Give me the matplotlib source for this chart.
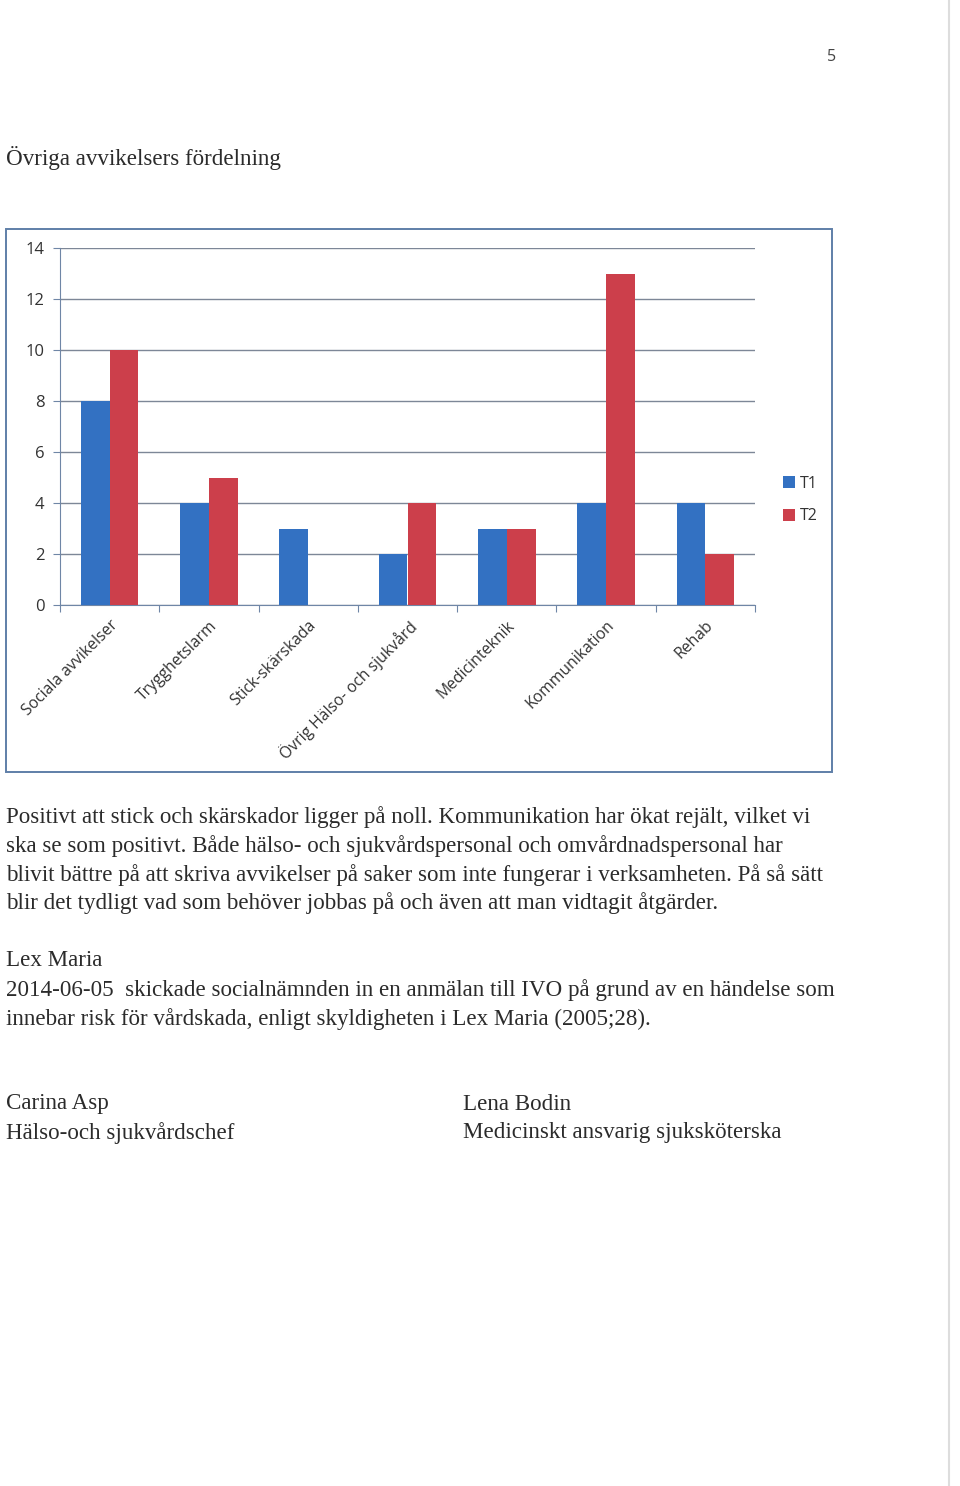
import matplotlib
matplotlib.use('Agg')
import matplotlib.pyplot as plt
import numpy as np

# chart data
categories = ['Sociala avvikelser', 'Trygghetslarm', 'Stick-skärskada',
              'Övrig Hälso- och sjukvård', 'Medicinteknik', 'Kommunikation', 'Rehab']
t1 = [8, 4, 3, 2, 3, 4, 4]
t2 = [10, 5, 0, 4, 3, 13, 2]
yticks = [0, 2, 4, 6, 8, 10, 12, 14]

# page text
title = 'Övriga avvikelsers fördelning'
para1 = ['Positivt att stick och skärskador ligger på noll. Kommunikation har ökat rejält, vilket vi',
         'ska se som positivt. Både hälso- och sjukvårdspersonal och omvårdnadspersonal har',
         'blivit bättre på att skriva avvikelser på saker som inte fungerar i verksamheten. På så sätt',
         'blir det tydligt vad som behöver jobbas på och även att man vidtagit åtgärder.']
para2 = ['Lex Maria',
         '2014-06-05  skickade socialnämnden in en anmälan till IVO på grund av en händelse som',
         'innebar risk för vårdskada, enligt skyldigheten i Lex Maria (2005;28).']
sign_left = ['Carina Asp', 'Hälso-och sjukvårdschef']
sign_right = ['Lena Bodin', 'Medicinskt ansvarig sjuksköterska']

W, H = 960, 1486
fig = plt.figure(figsize=(W / 100, H / 100), dpi=100)
fig.patch.set_facecolor('white')

def fx(px):
    return px / W

def fy(py):
    return 1 - py / H

serif = 'Liberation Serif'
sans = 'Open Sans'
txt_col = '#2b2b2b'
fs = 16.6

fig.text(fx(832), fy(57), '5', fontsize=11.5, family=sans, color='#444444', ha='center', va='center')
fig.text(fx(6), fy(158), title, fontsize=fs, family=serif, color=txt_col, va='center')

# chart frame
frame = plt.Rectangle((fx(6), fy(772)), fx(832) - fx(6), fy(229) - fy(772),
                      transform=fig.transFigure, fill=False, edgecolor='#5f7fa8', linewidth=1.4)
fig.patches.append(frame)

ax = fig.add_axes([fx(60), fy(605), fx(755) - fx(60), fy(248) - fy(605)])
x = np.arange(len(categories))
w = 0.29
ax.bar(x - w / 2, t1, w, color='#3371c2', label='T1', zorder=3)
ax.bar(x + w / 2, t2, w, color='#cc3f4b', label='T2', zorder=3)
ax.set_xlim(-0.5, len(categories) - 0.5)
ax.set_ylim(0, 14)
ax.set_yticks(yticks)
ax.yaxis.grid(True, color='#7d8797', linewidth=1.0, zorder=0)
for s in ['top', 'right']:
    ax.spines[s].set_visible(False)
ax.spines['left'].set_color('#6f86a6')
ax.spines['bottom'].set_color('#6f86a6')
ax.tick_params(axis='y', length=5, color='#6f86a6', labelsize=12, labelcolor='#333333', pad=6)
ax.set_xticks(np.arange(len(categories) + 1) - 0.5)
ax.set_xticklabels([])
ax.tick_params(axis='x', length=5, color='#6f86a6')
ax.set_xticks(x, minor=True)
ax.set_xticklabels(categories, minor=True, rotation=45, ha='right', rotation_mode='anchor',
                   fontsize=11.3, color='#333333', family=sans)
ax.tick_params(axis='x', which='minor', length=0, pad=9)
for lab in ax.get_yticklabels():
    lab.set_family(sans)

leg = fig.legend(handles=ax.get_legend_handles_labels()[0], labels=['T1', 'T2'],
                 loc='center left', bbox_to_anchor=(fx(769), fy(500)), frameon=False,
                 fontsize=11.5, handlelength=0.75, handleheight=0.75, handletextpad=0.3,
                 labelspacing=1.05)
for t in leg.get_texts():
    t.set_family(sans)
    t.set_color('#333333')

# body text
for i, line in enumerate(para1):
    fig.text(fx(6), fy(817 + i * 28.8), line, fontsize=fs, family=serif, color=txt_col, va='center')
for i, line in enumerate(para2):
    fig.text(fx(6), fy(961 + i * 28.8), line, fontsize=fs, family=serif, color=txt_col, va='center')
for i, line in enumerate(sign_left):
    fig.text(fx(6), fy(1104 + i * 28.8), line, fontsize=fs, family=serif, color=txt_col, va='center')
for i, line in enumerate(sign_right):
    fig.text(fx(463), fy(1104 + i * 28.8), line, fontsize=fs, family=serif, color=txt_col, va='center')

# scan edge on the right
fig.add_artist(plt.Line2D([fx(949), fx(949)], [0, 1], transform=fig.transFigure,
                          color='#dddddd', linewidth=1.5))

fig.savefig('out.png', dpi=100, facecolor='white')
